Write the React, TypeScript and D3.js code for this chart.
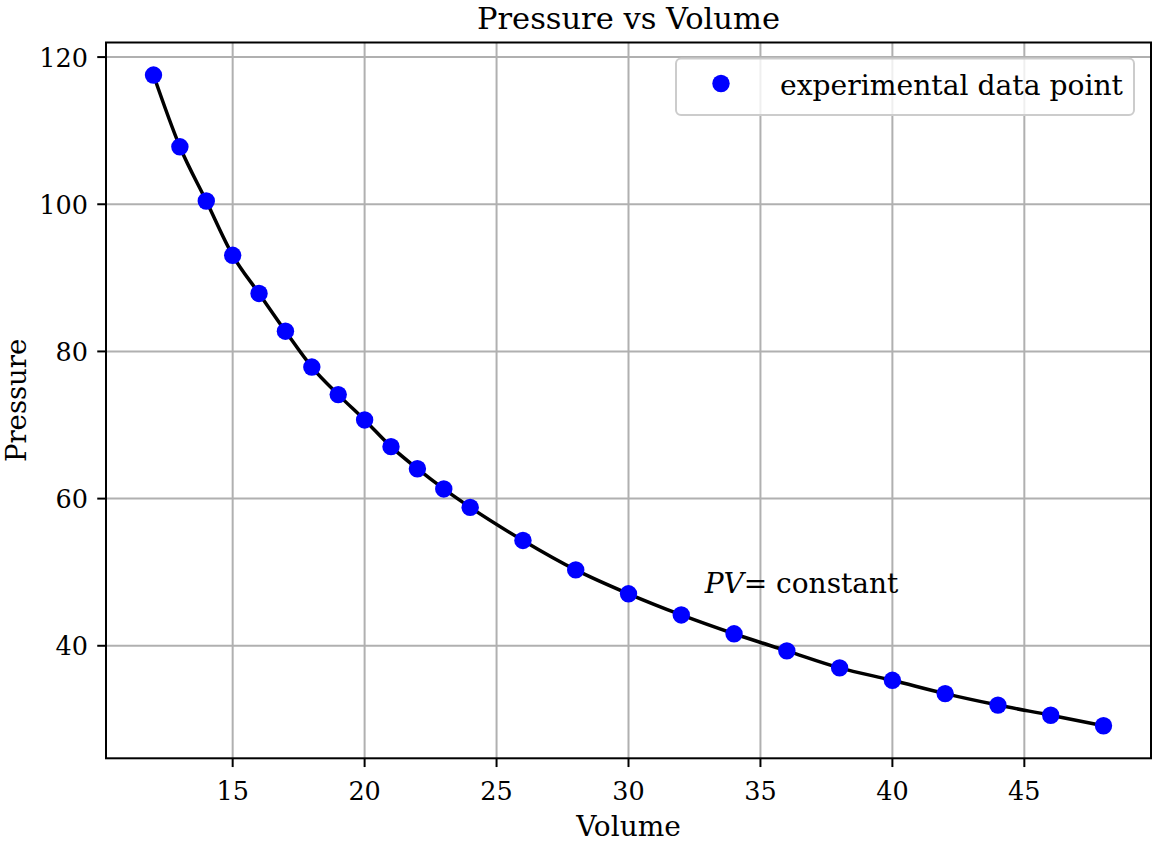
import React, { useEffect, useRef } from "react";
import * as d3 from "d3";

// Boyle's experiment: volume vs pressure
const volume = [12, 13, 14, 15, 16, 17, 18, 19, 20, 21, 22, 23, 24, 26, 28, 30, 32, 34, 36, 38, 40, 42, 44, 46, 48];
const pressure = [
  117.56, 107.81, 100.44, 93.06, 87.88, 82.75, 77.88, 74.13, 70.69, 67.06, 64.06, 61.31, 58.81,
  54.31, 50.31, 47.06, 44.19, 41.63, 39.31, 37.0, 35.31, 33.5, 31.94, 30.56, 29.13,
];
const xTicks = [15, 20, 25, 30, 35, 40, 45];
const yTicks = [40, 60, 80, 100, 120];

const W = 1152;
const H = 843;
const FONT = "'DejaVu Serif', serif";

const App: React.FC = () => {
  const svgRef = useRef<SVGSVGElement>(null);

  useEffect(() => {
    document.body.style.margin = "0";
    if (!svgRef.current) return;
    const svg = d3.select(svgRef.current);
    svg.selectAll("*").remove();

    const left = 106, right = 1151, top = 42.5, bottom = 758.3;

    const xPad = (d3.max(volume)! - d3.min(volume)!) * 0.05;
    const yPad = (d3.max(pressure)! - d3.min(pressure)!) * 0.05;
    const x = d3.scaleLinear()
      .domain([d3.min(volume)! - xPad, d3.max(volume)! + xPad])
      .range([left, right]);
    const y = d3.scaleLinear()
      .domain([d3.min(pressure)! - yPad, d3.max(pressure)! + yPad])
      .range([bottom, top]);

    svg.append("rect").attr("width", W).attr("height", H).attr("fill", "#fff");

    // grid
    const grid = svg.append("g").attr("stroke", "#b0b0b0").attr("stroke-width", 2);
    xTicks.forEach(t => {
      grid.append("line").attr("x1", x(t)).attr("x2", x(t)).attr("y1", top).attr("y2", bottom);
    });
    yTicks.forEach(t => {
      grid.append("line").attr("x1", left).attr("x2", right).attr("y1", y(t)).attr("y2", y(t));
    });

    const pts = volume.map((v, i) => [v, pressure[i]] as [number, number]);

    // PV = constant curve
    const line = d3.line<[number, number]>()
      .x(d => x(d[0]))
      .y(d => y(d[1]))
      .curve(d3.curveMonotoneX);
    svg.append("path")
      .attr("d", line(pts))
      .attr("fill", "none")
      .attr("stroke", "#000")
      .attr("stroke-width", 3.5);

    svg.append("g")
      .selectAll("circle")
      .data(pts)
      .join("circle")
      .attr("cx", d => x(d[0]))
      .attr("cy", d => y(d[1]))
      .attr("r", 8.7)
      .attr("fill", "#0000ff");

    // annotation
    const ann = svg.append("text")
      .attr("x", x(33) - 3)
      .attr("y", y(47.2))
      .attr("font-family", FONT)
      .attr("font-size", 28)
      .attr("fill", "#000");
    ann.append("tspan").attr("font-style", "italic").text("PV");
    ann.append("tspan").text("= constant");

    // spines
    svg.append("rect")
      .attr("x", left).attr("y", top)
      .attr("width", right - left).attr("height", bottom - top)
      .attr("fill", "none").attr("stroke", "#000").attr("stroke-width", 2);

    // ticks
    const ticks = svg.append("g").attr("font-family", FONT).attr("font-size", 25.5).attr("fill", "#000");
    xTicks.forEach(t => {
      ticks.append("line").attr("x1", x(t)).attr("x2", x(t)).attr("y1", bottom).attr("y2", bottom + 8.75)
        .attr("stroke", "#000").attr("stroke-width", 2);
      ticks.append("text").attr("x", x(t)).attr("y", 800).attr("text-anchor", "middle").text(t);
    });
    yTicks.forEach(t => {
      ticks.append("line").attr("x1", left - 8.75).attr("x2", left).attr("y1", y(t)).attr("y2", y(t))
        .attr("stroke", "#000").attr("stroke-width", 2);
      ticks.append("text").attr("x", 88).attr("y", y(t) + 9.5).attr("text-anchor", "end").text(t);
    });

    // labels
    svg.append("text")
      .attr("x", (left + right) / 2).attr("y", 28.5)
      .attr("text-anchor", "middle")
      .attr("font-family", FONT).attr("font-size", 30.5)
      .text("Pressure vs Volume");
    svg.append("text")
      .attr("x", (left + right) / 2).attr("y", 836)
      .attr("text-anchor", "middle")
      .attr("font-family", FONT).attr("font-size", 28)
      .text("Volume");
    svg.append("text")
      .attr("transform", `translate(26,${(top + bottom) / 2}) rotate(-90)`)
      .attr("text-anchor", "middle")
      .attr("font-family", FONT).attr("font-size", 27.5)
      .text("Pressure");

    // legend
    const lg = svg.append("g");
    lg.append("rect")
      .attr("x", 676).attr("y", 58.5).attr("width", 458).attr("height", 56.5)
      .attr("rx", 5).attr("ry", 5)
      .attr("fill", "rgba(255,255,255,0.8)")
      .attr("stroke", "#cccccc").attr("stroke-width", 2);
    lg.append("circle").attr("cx", 721).attr("cy", 83.5).attr("r", 8.7).attr("fill", "#0000ff");
    lg.append("text")
      .attr("x", 780).attr("y", 95)
      .attr("font-family", FONT).attr("font-size", 28.2)
      .text("experimental data point");
  }, []);

  return <svg ref={svgRef} width={W} height={H} style={{ display: "block" }} />;
};

export default App;
